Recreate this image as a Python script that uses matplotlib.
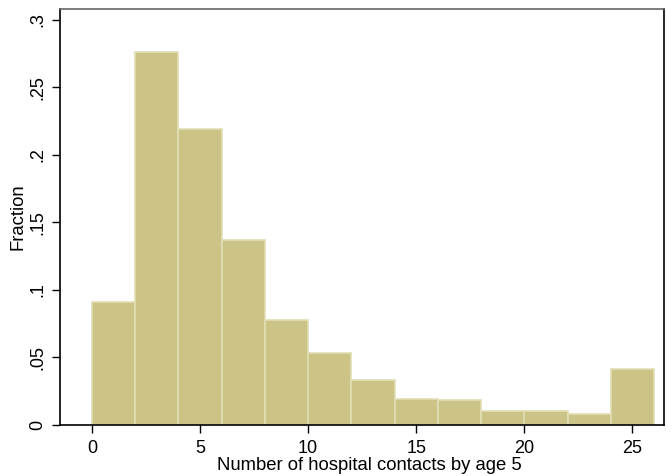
import numpy as np
import matplotlib.pyplot as plt

plt.rcParams['font.family'] = ['Liberation Sans', 'DejaVu Sans']

# histogram bins (width 2) and fraction per bin
bin_edges = [0, 2, 4, 6, 8, 10, 12, 14, 16, 18, 20, 22, 24, 26]
fractions = [0.091, 0.276, 0.219, 0.137, 0.078, 0.053, 0.033,
             0.019, 0.0185, 0.0104, 0.0104, 0.0081, 0.0415]
x_ticks = [0, 5, 10, 15, 20, 25]
y_ticks = [0, 0.05, 0.1, 0.15, 0.2, 0.25, 0.3]
y_labels = ['0', '.05', '.1', '.15', '.2', '.25', '.3']

fig = plt.figure(figsize=(6.72, 4.76), dpi=100)
ax = fig.add_axes([60/672, 51/476, 604/672, 416/476])

lefts = np.array(bin_edges[:-1])
widths = np.diff(bin_edges)
ax.bar(lefts, fractions, width=widths, align='edge',
       color='#CBC486', edgecolor='#E2DEB4', linewidth=1.2)

ax.set_xlim(-1.48, 26.46)
ax.set_ylim(0, 0.308)
ax.set_xticks(x_ticks)
ax.set_yticks(y_ticks)
ax.set_yticklabels(y_labels, rotation=90, va='center')
ax.tick_params(direction='out', length=6, width=1, labelsize=13)
ax.tick_params(axis='x', pad=5)
ax.tick_params(axis='y', pad=4)

for s in ax.spines.values():
    s.set_linewidth(1.2)
ax.spines['top'].set_color('#666666')

ax.set_xlabel('Number of hospital contacts by age 5', fontsize=13.3,
              va='bottom')
ax.xaxis.set_label_coords(0.513, -0.118)
ax.set_ylabel('Fraction', fontsize=13.3, va='center')
ax.yaxis.set_label_coords(-0.07, 0.5)

fig.savefig('out.png', dpi=100)
